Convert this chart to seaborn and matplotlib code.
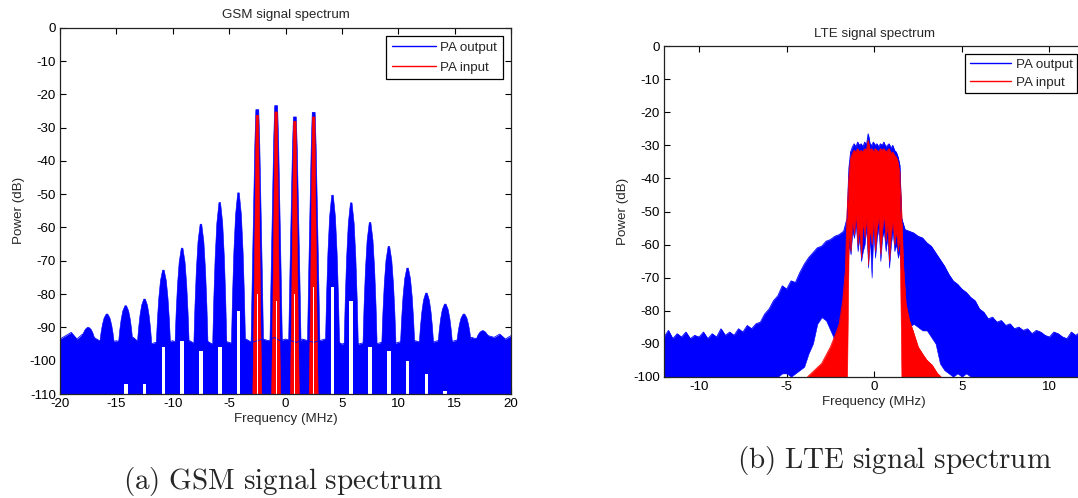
import numpy as np
import matplotlib
matplotlib.use("Agg")
import matplotlib.pyplot as plt
import seaborn as sns
from matplotlib.lines import Line2D

# ---------------------------------------------------------------- GSM data
# Noise-floor level of the PA output, sampled every 0.5 MHz from -20 to 20 MHz
gsm_floor_freq = np.linspace(-20, 20, 81)
gsm_floor_db = [
    -93.5, -92.5, -91.5, -93.5, -92.0, -93.0, -93.0, -94.0, -94.0, -94.5,
    -94.0, -94.5, -94.0, -93.0, -94.5, -94.0, -95.0, -94.5, -95.0, -94.5,
    -94.0, -95.0, -94.5, -94.0, -95.0, -94.5, -94.0, -95.0, -94.5, -94.0,
    -94.5, -95.0, -94.0, -93.5, -94.5, -94.0, -93.5, -94.0, -93.0, -94.0,
    -93.5, -94.0, -94.5, -93.5, -94.0, -94.5, -94.0, -93.5, -94.5, -94.0,
    -95.0, -94.5, -94.0, -95.0, -94.5, -94.0, -95.0, -94.5, -94.0, -95.0,
    -94.5, -94.0, -95.0, -94.0, -94.5, -94.0, -94.5, -94.0, -93.5, -94.5,
    -94.0, -93.5, -94.0, -93.0, -93.5, -91.5, -92.5, -93.0, -92.0, -93.5,
    -92.5,
]

# Spectral lobes of the PA output: centre (MHz), peak (dB), top of the dip at the lobe centre (dB)
gsm_lobe_freq = [-17.5, -15.83, -14.17, -12.5, -10.83, -9.17, -7.5, -5.83, -4.17,
                 -2.5, -0.83, 0.83, 2.5,
                 4.17, 5.83, 7.5, 9.17, 10.83, 12.5, 14.17, 15.83, 17.5]
gsm_out_peak = [-90.0, -86.0, -83.5, -81.5, -72.8, -66.2, -59.0, -52.5, -49.6,
                -24.6, -23.4, -26.8, -25.4,
                -50.3, -52.6, -58.5, -65.7, -72.2, -79.7, -83.0, -86.0, -91.0]
gsm_out_dip = [-110, -110, -107, -107, -96, -94, -97, -96, -85,
               -110, -110, -110, -110,
               -78, -82, -96, -97, -100, -104, -109, -110, -110]

# Four GSM carriers at the PA input
gsm_in_freq = [-2.5, -0.83, 0.83, 2.5]
gsm_in_peak = [-26.3, -25.3, -28.1, -26.8]
gsm_in_dip = [-80, -82, -80, -78]

# ---------------------------------------------------------------- LTE data
lte_band = np.round(np.arange(-1.45, 1.46, 0.1), 2)
lte_lower_side = np.concatenate([np.round(np.arange(-12, -1.99, 0.25), 2), [-1.75, -1.55]])
lte_upper_side = np.concatenate([[1.55, 1.75], np.round(np.arange(2, 12.01, 0.25), 2)])

lte_out_freq = np.concatenate([lte_lower_side, lte_band, lte_upper_side])
lte_out_top = [
    # lower side, -12 ... -1.55 MHz
    -88.0, -86.0, -88.5, -87.0, -88.0, -86.5, -88.5, -87.5, -88.0, -86.5,
    -88.5, -87.0, -88.0, -85.5, -87.5, -86.5, -87.5, -85.5, -86.5, -84.5,
    -85.5, -84.0, -83.5, -81.0, -79.5, -77.0, -75.5, -72.5, -73.5, -71.0,
    -71.5, -68.5, -66.0, -64.0, -62.5, -61.0, -60.5, -59.0, -58.5, -57.5,
    -57.0, -56.0, -52.0,
    # in band
    -37.0, -32.0, -30.5, -29.5, -30.5, -29.0, -30.0, -29.5, -30.5, -29.0,
    -30.0, -26.5, -29.5, -30.0, -29.0, -30.0, -29.5, -30.5, -29.5, -30.0,
    -29.0, -30.5, -30.0, -29.5, -31.0, -30.0, -31.5, -32.0, -33.5, -36.0,
    # upper side, 1.55 ... 12 MHz
    -52.0, -55.5,
    -56.0, -56.5, -57.5, -58.0, -59.5, -60.5, -62.5, -64.5, -66.5, -69.0,
    -71.0, -72.0, -73.5, -74.5, -76.0, -77.0, -79.5, -80.5, -82.5, -82.0,
    -83.5, -83.0, -84.5, -84.0, -85.5, -85.0, -86.0, -85.5, -87.0, -86.0,
    -86.5, -87.5, -88.0, -86.5, -87.0, -88.0, -88.5, -86.5, -87.5, -86.5,
    -88.0,
]
lte_out_low = [
    # lower side
    -100, -100, -100, -100, -100, -100, -100, -100, -100, -100,
    -100, -100, -100, -100, -100, -100, -100, -100, -100, -100,
    -100, -100, -100, -100, -100, -100, -100, -99, -99, -100,
    -99, -98, -97, -93, -90, -84, -82, -83, -86, -89,
    -90, -84, -72,
    # in band
    -60, -63, -56, -58, -54, -62, -58, -65, -62, -60,
    -55, -67, -58, -70, -56, -64, -58, -55, -65, -58,
    -56, -62, -58, -67, -60, -56, -62, -60, -64, -62,
    # upper side
    -72, -82,
    -85, -84, -85, -86, -86, -88, -90, -96, -98, -99,
    -100, -99, -100, -99, -100, -100, -100, -100, -100, -100,
    -100, -100, -100, -100, -100, -100, -100, -100, -100, -100,
    -100, -100, -100, -100, -100, -100, -100, -100, -100, -100,
    -100,
]

lte_in_freq = np.concatenate([
    [-3.8, -3.5, -3.2, -3.0, -2.7, -2.5, -2.2, -2.0, -1.8, -1.65, -1.55],
    lte_band,
    [1.55, 1.65, 1.8, 2.0, 2.2, 2.5, 2.8, 3.0, 3.3, 3.6, 3.8],
])
lte_in_top = [
    -100, -98.5, -97, -96, -93, -91, -87, -84, -77, -68, -50,
    # in band
    -40.0, -34.0, -32.5, -31.5, -32.0, -31.0, -32.0, -31.5, -32.0, -31.0,
    -31.5, -28.5, -31.5, -31.0, -32.0, -31.0, -31.5, -32.0, -31.0, -31.5,
    -31.0, -32.0, -31.5, -31.0, -32.5, -32.0, -33.0, -33.5, -35.0, -38.0,
    # upper skirt
    -50, -66, -78, -83, -86, -91, -93.5, -95, -96.5, -99, -100,
]
lte_in_low = [
    -100, -100, -100, -100, -100, -100, -100, -100, -100, -100, -100,
    # in band
    -56, -62, -53, -57, -51, -60, -55, -64, -53, -58,
    -52, -66, -55, -60, -53, -62, -55, -52, -63, -56,
    -51, -59, -54, -65, -57, -53, -60, -56, -62, -58,
    # upper skirt
    -100, -100, -100, -100, -100, -100, -100, -100, -100, -100, -100,
]

# ---------------------------------------------------------------- style
BLUE = "#0000ff"
RED = "#ff0000"

sns.set_theme(style="white")
plt.rcParams["font.family"] = ["Liberation Sans", "DejaVu Sans"]
plt.rcParams["mathtext.fontset"] = "cm"
plt.rcParams["axes.unicode_minus"] = False

TICK_FS = 9.6
LABEL_FS = 9.6

# lobe outline: fraction of the drop from the peak, and half-width (MHz) at that level
LEVELS = np.array([0.0, 0.15, 0.4, 0.7, 1.0])
HW_SIDEBAND = np.array([0.07, 0.26, 0.41, 0.53, 0.62])
HW_CARRIER_OUT = np.array([0.13, 0.22, 0.32, 0.44, 0.55])
HW_CARRIER_IN = np.array([0.11, 0.15, 0.21, 0.29, 0.40])


def lobe(ax, centre, peak, base, bottom, hw, color):
    lev = peak - LEVELS * (peak - base)
    xs = np.concatenate([[centre - hw[-1]], centre - hw[::-1], centre + hw, [centre + hw[-1]]])
    ys = np.concatenate([[bottom], lev[::-1], lev, [bottom]])
    ax.fill(xs, ys, color=color, lw=0.4, ec=color)


def dips(ax, centres, tops, bottom, width):
    for c, t in zip(centres, tops):
        if t > bottom:
            ax.bar(c, t - bottom, bottom=bottom, width=width, color="white", linewidth=0, zorder=2.5)


def frame(ax, xlim, ylim, xticks, yticks):
    ax.set_xlim(*xlim)
    ax.set_ylim(*ylim)
    ax.set_xticks(xticks)
    ax.set_yticks(yticks)
    ax.tick_params(direction="in", length=4.5, width=0.8, colors="black",
                   top=True, right=True, bottom=True, left=True,
                   labelsize=TICK_FS, pad=3)
    for s in ax.spines.values():
        s.set_visible(True)
        s.set_color("#222222")
        s.set_linewidth(0.9)
        s.set_zorder(5)


def legend(ax, **kw):
    handles = [Line2D([], [], color=BLUE, lw=1.0), Line2D([], [], color=RED, lw=1.0)]
    lg = ax.legend(handles, ["PA output", "PA input"], loc="upper right",
                   fontsize=LABEL_FS, frameon=True, fancybox=False, framealpha=1,
                   edgecolor="black", handletextpad=0.35, **kw)
    lg.get_frame().set_linewidth(0.9)
    lg.set_zorder(6)


fig = plt.figure(figsize=(10.78, 4.98), dpi=100)

# ---------------------------------------------------------------- GSM panel
ax1 = fig.add_axes([60 / 1078, 1 - 394 / 498, 451 / 1078, 366.3 / 498])
ax1.fill_between(gsm_floor_freq, -110, gsm_floor_db, color=BLUE, lw=0)
sns.lineplot(x=gsm_floor_freq, y=gsm_floor_db, color=BLUE, lw=0.6, ax=ax1,
             estimator=None, sort=False)
for c, p in zip(gsm_lobe_freq, gsm_out_peak):
    hw = HW_CARRIER_OUT if p > -40 else HW_SIDEBAND
    lobe(ax1, c, p, -94.0, -110, hw, BLUE)
dips(ax1, gsm_lobe_freq, gsm_out_dip, -110, 0.32)
for c, p in zip(gsm_in_freq, gsm_in_peak):
    lobe(ax1, c, p, -110, -110, HW_CARRIER_IN, RED)
dips(ax1, gsm_in_freq, gsm_in_dip, -110, 0.1)
frame(ax1, (-20, 20), (-110, 0), np.arange(-20, 21, 5), np.arange(-110, 1, 10))
ax1.set_title("GSM signal spectrum", fontsize=LABEL_FS, pad=7)
ax1.set_xlabel("Frequency (MHz)", fontsize=LABEL_FS, labelpad=2)
ax1.set_ylabel("Power (dB)", fontsize=LABEL_FS, labelpad=3)
legend(ax1, handlelength=3.3, labelspacing=0.55, borderpad=0.42, borderaxespad=0.62)

# ---------------------------------------------------------------- LTE panel
ax2 = fig.add_axes([664 / 1078, 1 - 376.7 / 498, 420.5 / 1078, 330.4 / 498])
ax2.fill_between(lte_out_freq, lte_out_low, lte_out_top, color=BLUE, lw=0.4, ec=BLUE)
sns.lineplot(x=lte_out_freq, y=lte_out_top, color=BLUE, lw=0.6, ax=ax2,
             estimator=None, sort=False)
ax2.fill_between(lte_in_freq, lte_in_low, lte_in_top, color=RED, lw=0.4, ec=RED)
sns.lineplot(x=lte_in_freq, y=lte_in_top, color=RED, lw=0.6, ax=ax2,
             estimator=None, sort=False)
frame(ax2, (-12, 12), (-100, 0), np.arange(-10, 11, 5), np.arange(-100, 1, 10))
ax2.set_title("LTE signal spectrum", fontsize=LABEL_FS, pad=7)
ax2.set_xlabel("Frequency (MHz)", fontsize=LABEL_FS, labelpad=2)
ax2.set_ylabel("Power (dB)", fontsize=LABEL_FS, labelpad=3)
legend(ax2, handlelength=3.1, labelspacing=0.42, borderpad=0.35, borderaxespad=0.55)

# ---------------------------------------------------------------- captions
fig.text(283 / 1078, 1 - 481 / 498, r"$\mathrm{(a)\ GSM\ signal\ spectrum}$",
         ha="center", va="center", fontsize=21)
fig.text(894 / 1078, 1 - 460 / 498, r"$\mathrm{(b)\ LTE\ signal\ spectrum}$",
         ha="center", va="center", fontsize=21)

fig.savefig("out.png", dpi=100)
